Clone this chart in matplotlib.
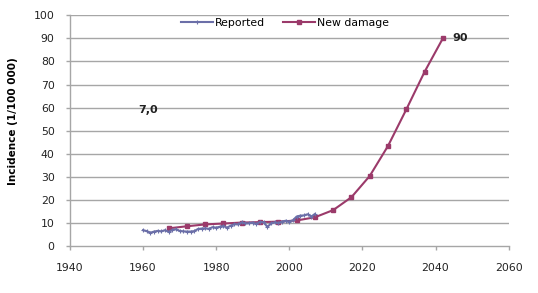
import matplotlib
matplotlib.use("Agg")
import matplotlib.pyplot as plt

# reported incidence, yearly
rep_years = list(range(1960, 2008))
rep_vals = [6.9, 6.5, 5.8, 6.3, 6.6, 6.4, 6.9, 6.2, 7.0, 7.3,
            6.6, 6.4, 6.3, 6.3, 6.5, 7.4, 7.6, 7.7, 7.5, 8.2,
            8.0, 8.4, 8.7, 8.0, 8.9, 9.5, 9.4, 10.3, 9.8, 9.9,
            10.2, 9.6, 10.5, 10.3, 8.3, 9.8, 10.3, 10.0, 10.6, 11.0,
            10.6, 11.2, 12.8, 13.2, 13.3, 13.8, 12.8, 13.9]

# modelled new damage, 5-year steps
new_years = [1967, 1972, 1977, 1982, 1987, 1992, 1997, 2002,
             2007, 2012, 2017, 2022, 2027, 2032, 2037, 2042]
new_vals = [7.7, 8.6, 9.4, 9.8, 10.2, 10.4, 10.6, 11.1,
            12.5, 15.6, 21.2, 30.4, 43.4, 59.2, 75.5, 90.0]

x_ticks = [1940, 1960, 1980, 2000, 2020, 2040, 2060]
y_ticks = list(range(0, 101, 10))

plt.rcParams['font.family'] = ['DejaVu Sans']
fig = plt.figure(figsize=(5.38, 2.93), dpi=100)
ax = fig.add_axes([0.130, 0.160, 0.8155, 0.788])

grid_c = '#a6a6a6'
for y in y_ticks[1:]:
    ax.axhline(y, color=grid_c, lw=1.0, zorder=0)

ax.plot(rep_years, rep_vals, color='#6b6fa8', lw=1.5, marker='+',
        ms=2.5, mew=0.8, label='Reported', zorder=3)
ax.plot(new_years, new_vals, color='#9b3a6a', lw=1.5, marker='s',
        ms=2.5, label='New damage', zorder=2)

ax.set_xlim(1940, 2060)
ax.set_ylim(0, 100)
ax.set_xticks(x_ticks)
ax.set_yticks(y_ticks)
for s in ['top', 'right']:
    ax.spines[s].set_visible(False)
for s in ['left', 'bottom']:
    ax.spines[s].set_color(grid_c)
    ax.spines[s].set_linewidth(1.0)
ax.tick_params(axis='both', direction='out', length=3, width=1.0,
               color=grid_c, labelsize=7.8, labelcolor='#222222')
ax.tick_params(axis='x', pad=9)
ax.tick_params(axis='y', pad=8)
ax.set_ylabel('Incidence (1/100 000)', fontsize=7.5, fontweight='bold',
              labelpad=8)
ax.yaxis.set_label_coords(-0.118, 0.54)

ax.text(1961.3, 59, '7,0', fontsize=8, fontweight='bold',
        ha='center', va='center', color='#222222')
ax.text(new_years[-1] + 2.7, new_vals[-1], '90', fontsize=8,
        fontweight='bold', ha='left', va='center', color='#222222')

ax.legend(loc='upper center', bbox_to_anchor=(0.49, 1.03), ncol=2,
          frameon=False, fontsize=7.8, handlelength=3.0, columnspacing=1.6,
          handletextpad=0.2)

fig.savefig('out.png', dpi=100)
